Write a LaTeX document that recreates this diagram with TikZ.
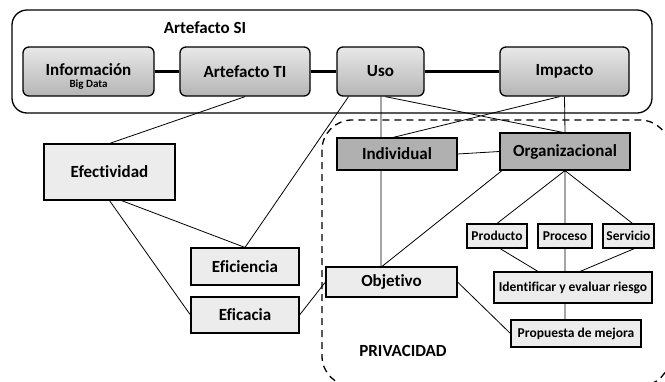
\documentclass[tikz,border=0pt]{standalone}
\usepackage{fontspec}
\setmainfont{Carlito}[Ligatures=NoCommon]
\usetikzlibrary{calc,backgrounds}

\begin{document}
\begin{tikzpicture}[x=1pt,y=-1pt,
    headbox/.style={draw,line width=1.3pt,rounded corners=6pt,top color=gray!18,bottom color=gray!58,
        font=\bfseries\fontsize{17}{17}\selectfont,align=center,inner sep=0pt},
    darkbox/.style={draw,line width=1.1pt,fill=gray!62,font=\bfseries\fontsize{17}{17}\selectfont,inner sep=0pt},
    lightbox/.style={draw,line width=1.1pt,fill=gray!15,font=\bfseries\fontsize{17}{17}\selectfont,inner sep=0pt},
    smallbox/.style={draw,line width=1.1pt,fill=gray!15,font=\bfseries\fontsize{13.5}{13.5}\selectfont,inner sep=0pt},
    link/.style={line width=0.8pt},
    boldlink/.style={line width=2.2pt}]
    \clip (0,0) rectangle (665,381);
    \fill[white] (0,0) rectangle (665,381);
    % grupos
    \draw[line width=1.3pt,rounded corners=15pt] (12,10) rectangle (652,113);
    \draw[line width=1.3pt,dashed,dash pattern=on 7pt off 5pt,rounded corners=30pt] (322,120) rectangle (670,386);
    \node[font=\bfseries\fontsize{17}{17}\selectfont] (artsi) at (205,28) {Artefacto SI};
    \node[font=\bfseries\fontsize{17}{17}\selectfont] (priv) at (403,351) {PRIVACIDAD};
    % artefacto
    \node[headbox,minimum width=131,minimum height=49] (info) at (88.5,71.5)
        {\rule{0pt}{22pt}Información\\[-5pt]{\fontsize{11}{11}\selectfont Big Data}};
    \node[headbox,minimum width=130,minimum height=49] (artti) at (245,71.5) {Artefacto TI};
    \node[headbox,minimum width=87,minimum height=49] (uso) at (380.5,71.5) {Uso};
    \node[headbox,minimum width=129,minimum height=49] (imp) at (564.5,71.5) {Impacto};
    % izquierda
    \node[lightbox,minimum width=131,minimum height=56] (efect) at (109.5,172) {Efectividad};
    \node[lightbox,minimum width=108,minimum height=37] (efic) at (245,266.5) {Eficiencia};
    \node[lightbox,minimum width=108,minimum height=36] (eficac) at (245,315) {Eficacia};
    % privacidad
    \node[darkbox,minimum width=120,minimum height=32] (indiv) at (397,154) {Individual};
    \node[darkbox,minimum width=130,minimum height=37] (org) at (565,151.5) {Organizacional};
    \node[lightbox,minimum width=131,minimum height=30] (obj) at (391.5,282) {Objetivo};
    \node[smallbox,minimum width=60,minimum height=24] (prod) at (497,236) {Producto};
    \node[smallbox,minimum width=54,minimum height=24] (proc) at (565,236) {Proceso};
    \node[smallbox,minimum width=51,minimum height=24] (serv) at (628.5,236) {Servicio};
    \node[smallbox,minimum width=158,minimum height=31] (ident) at (573,287.5) {Identificar y evaluar riesgo};
    \node[smallbox,minimum width=130,minimum height=27] (prop) at (576,333.5) {Propuesta de mejora};
    % conexiones
    \draw[boldlink] (info)--(artti) (artti)--(uso) (uso)--(imp);
    \draw[link] (artti.south)--(efect.north)
        ([xshift=-32]uso.south)--(efic.north)
        ([xshift=12]efect.south)--(efic.north)
        (efect.south)--(eficac.west)
        (eficac.east)--(obj.west);
    \draw[link] ([xshift=0.5]uso.south)--([xshift=-16]indiv.north)
        ([xshift=5]uso.south)--([xshift=-2]org.north)
        (imp.south)--(org.north)
        ([xshift=-5]imp.south)--([xshift=-4]indiv.north)
        (indiv.east)--(org.west)
        ([xshift=-16]indiv.south)--([xshift=-10.5]obj.north)
        ([xshift=-63]org.south)--([xshift=-9.5]obj.north)
        (org.south)--(prod.north)
        (org.south)--(proc.north)
        (org.south)--([xshift=4]serv.north)
        ([xshift=3]prod.south)--([xshift=-35]ident.north)
        (proc.south)--([xshift=-8]ident.north)
        ([xshift=6]serv.south)--([xshift=7]ident.north)
        ([xshift=-8]ident.south)--([xshift=-11]prop.north)
        (obj.east)--(prop.west);
\end{tikzpicture}
\end{document}
